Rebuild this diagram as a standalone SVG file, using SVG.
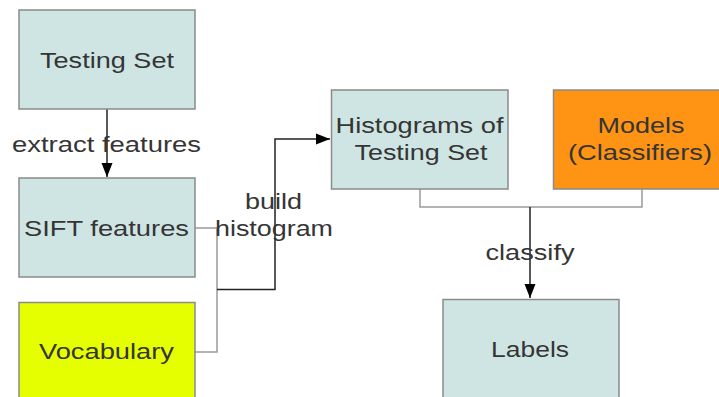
<svg xmlns="http://www.w3.org/2000/svg" width="719" height="397" viewBox="0 0 719 397">
<style>
.box{fill:#cfe5e3;stroke:#8a8a8a;stroke-width:1.5}
.t{font-family:"Liberation Sans",Arial,sans-serif;font-size:22.5px;fill:#353535;text-anchor:middle}
.g{fill:none;stroke:#9a9a9a;stroke-width:1.5}
.d{fill:none;stroke:#222;stroke-width:1.5}
</style>
<defs>
<marker id="ah" markerWidth="15" markerHeight="12" refX="14" refY="6" orient="auto" markerUnits="userSpaceOnUse">
<path d="M0,0.5 L14,6 L0,11.5 Z" fill="#000"/>
</marker>
</defs>
<rect width="719" height="397" fill="#fff"/>
<g id="connectors">
<line class="d" x1="107" y1="109" x2="107" y2="177" marker-end="url(#ah)"/>
<path class="g" d="M195,228 H217 V352 H195"/>
<path class="d" d="M217,289.5 H275 V139 H330" marker-end="url(#ah)"/>
<path class="g" d="M420,189 V207 H642 V189"/>
<line class="d" x1="530" y1="207" x2="530" y2="298" marker-end="url(#ah)"/>
<text class="t" x="106.5" y="152" textLength="189" lengthAdjust="spacingAndGlyphs">extract features</text>
<text class="t" x="273.5" y="209" textLength="57" lengthAdjust="spacingAndGlyphs">build</text>
<text class="t" x="274" y="235.5" textLength="118" lengthAdjust="spacingAndGlyphs">histogram</text>
<text class="t" x="530" y="260" textLength="89" lengthAdjust="spacingAndGlyphs">classify</text>
</g>
<g id="testing-set">
<rect class="box" x="19" y="10" width="176" height="99"/>
<text class="t" x="107" y="67.5" textLength="134" lengthAdjust="spacingAndGlyphs">Testing Set</text>
</g>
<g id="sift-features">
<rect class="box" x="19" y="178" width="176" height="99"/>
<text class="t" x="106.5" y="236" textLength="165" lengthAdjust="spacingAndGlyphs">SIFT features</text>
</g>
<g id="vocabulary">
<rect class="box" x="19" y="302.5" width="176" height="99" style="fill:#e6ff00"/>
<text class="t" x="106.5" y="359" textLength="135" lengthAdjust="spacingAndGlyphs">Vocabulary</text>
</g>
<g id="histograms">
<rect class="box" x="331.5" y="90" width="176.5" height="99"/>
<text class="t" x="419.5" y="133" textLength="168" lengthAdjust="spacingAndGlyphs">Histograms of</text>
<text class="t" x="421" y="160" textLength="133" lengthAdjust="spacingAndGlyphs">Testing Set</text>
</g>
<g id="models">
<rect class="box" x="553.5" y="90" width="176" height="99" style="fill:#ff9414"/>
<text class="t" x="641" y="133" textLength="87" lengthAdjust="spacingAndGlyphs">Models</text>
<text class="t" x="640" y="160" textLength="144" lengthAdjust="spacingAndGlyphs">(Classifiers)</text>
</g>
<g id="labels">
<rect class="box" x="443" y="299.5" width="176" height="99"/>
<text class="t" x="530" y="357" textLength="78" lengthAdjust="spacingAndGlyphs">Labels</text>
</g>
</svg>
